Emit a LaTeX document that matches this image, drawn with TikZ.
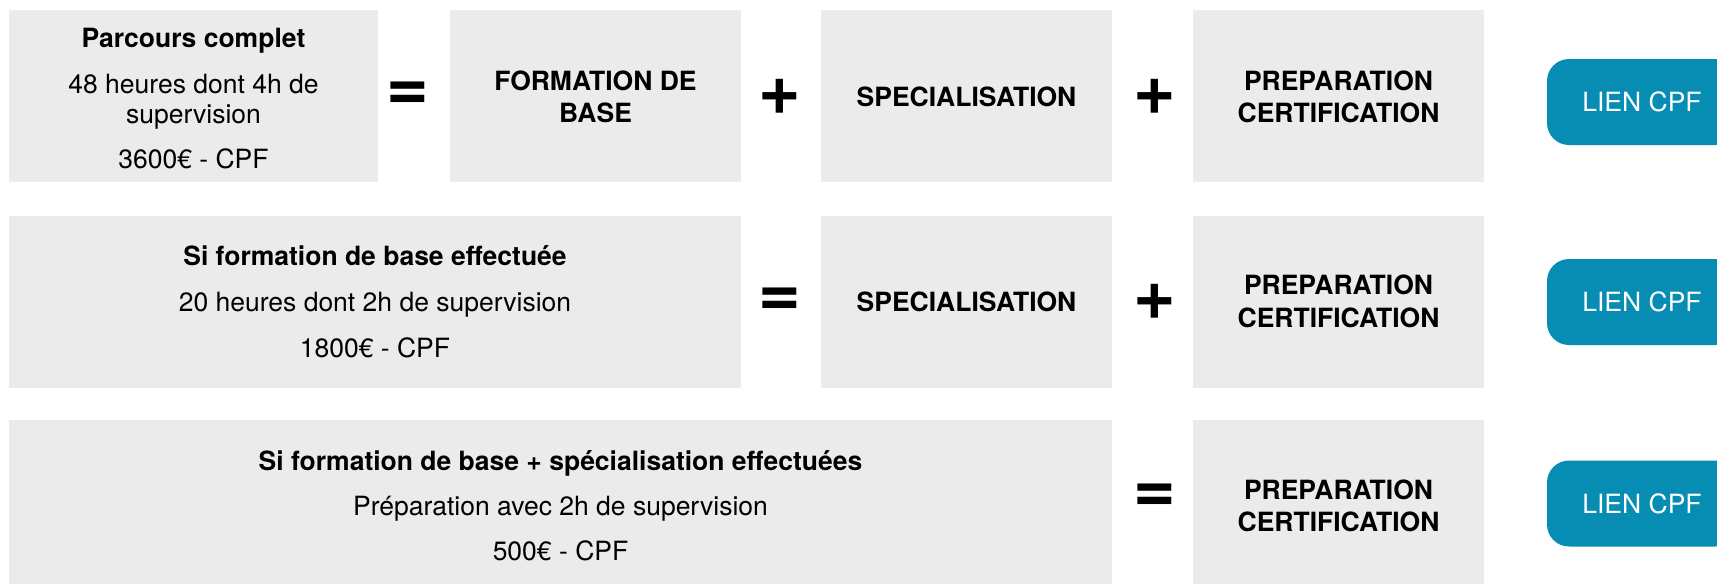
\documentclass[tikz,border=0pt]{standalone}
\usepackage{fontspec}
\setmainfont{TeX Gyre Heros}
\definecolor{boxgray}{HTML}{EBEBEB}
\definecolor{cpfblue}{HTML}{078DB4}
\tikzset{
  graybox/.style={fill=boxgray, draw=none, inner sep=0pt, anchor=center, minimum height=172pt},
  narrowbox/.style={graybox, minimum width=291pt},
  txt/.style={font=\fontsize{26.5}{30}\selectfont, anchor=base, inner sep=0pt},
  btxt/.style={font=\fontsize{26.5}{30}\selectfont\bfseries, anchor=base, inner sep=0pt},
  sign/.style={font=\fontsize{73}{80}\selectfont\bfseries, inner sep=0pt, anchor=center},
  cpfbtn/.style={fill=cpfblue, rounded corners=22pt, minimum width=190pt, minimum height=86pt,
    inner sep=0pt, text=white, font=\fontsize{26.5}{30}\selectfont, anchor=center}
}
\begin{document}
\begin{tikzpicture}[x=1pt,y=-1pt]
\useasboundingbox (0,0) rectangle (1717,584);
\clip (0,0) rectangle (1717,584);
% ---------- Row 1 ----------
\node[graybox, minimum width=369pt] (b1) at (193.5,96) {};
\node[narrowbox] (fdb1) at (595.5,96) {};
\node[narrowbox] (spec1) at (966.5,96) {};
\node[narrowbox] (prep1) at (1338.5,96) {};
\node[btxt] (t1a) at (193.5,47) {Parcours complet};
\node[txt] (t1b) at (193.5,93) {48 heures dont 4h de};
\node[txt] (t1c) at (193.5,123) {supervision};
\node[txt] (t1d) at (193.5,168) {3600€ - CPF};
\node[btxt] (f1a) at (595.5,90) {FORMATION DE};
\node[btxt] (f1b) at (595.5,122) {BASE};
\node[btxt] (s1) at (966.5,106) {SPECIALISATION};
\node[btxt] (p1a) at (1338.5,90) {PREPARATION};
\node[btxt] (p1b) at (1338.5,122) {CERTIFICATION};
\node[sign] (eq1) at (408,96.5) {=};
\node[sign] (pl1) at (780,97) {+};
\node[sign] (pl2) at (1154.5,97) {+};
\node[cpfbtn] (btn1) at (1642,102) {LIEN CPF};
% ---------- Row 2 ----------
\node[graybox, minimum width=732pt] (b2) at (375,302) {};
\node[narrowbox] (spec2) at (966.5,302) {};
\node[narrowbox] (prep2) at (1338.5,302) {};
\node[btxt] (t2a) at (375,265) {Si formation de base effectuée};
\node[txt] (t2b) at (375,311) {20 heures dont 2h de supervision};
\node[txt] (t2c) at (375,357) {1800€ - CPF};
\node[btxt] (s2) at (966.5,311.5) {SPECIALISATION};
\node[btxt] (p2a) at (1338.5,294) {PREPARATION};
\node[btxt] (p2b) at (1338.5,327) {CERTIFICATION};
\node[sign] (eq2) at (779.5,302.5) {=};
\node[sign] (pl3) at (1154.5,302) {+};
\node[cpfbtn] (btn2) at (1642,302) {LIEN CPF};
% ---------- Row 3 ----------
\node[graybox, minimum width=1103pt, minimum height=164pt] (b3) at (560.5,502) {};
\node[narrowbox, minimum height=164pt] (prep3) at (1338.5,502) {};
\node[btxt] (t3a) at (560.5,470) {Si formation de base + spécialisation effectuées};
\node[txt] (t3b) at (560.5,515) {Préparation avec 2h de supervision};
\node[txt] (t3c) at (560.5,560) {500€ - CPF};
\node[btxt] (p3a) at (1338.5,499) {PREPARATION};
\node[btxt] (p3b) at (1338.5,531) {CERTIFICATION};
\node[sign] (eq3) at (1155,498.5) {=};
\node[cpfbtn] (btn3) at (1642,503.5) {LIEN CPF};
\end{tikzpicture}
\end{document}
